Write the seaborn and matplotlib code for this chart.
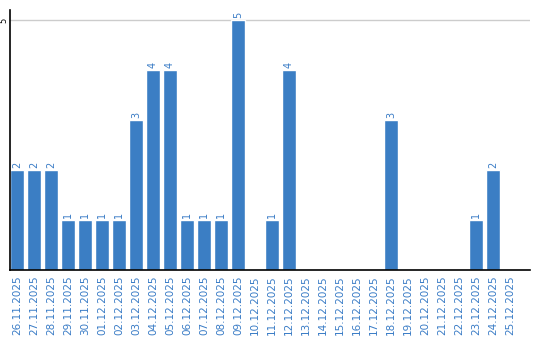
import matplotlib
matplotlib.use("Agg")
import matplotlib.pyplot as plt
import seaborn as sns
import pandas as pd

dates = ["26.11.2025", "27.11.2025", "28.11.2025", "29.11.2025", "30.11.2025",
         "01.12.2025", "02.12.2025", "03.12.2025", "04.12.2025", "05.12.2025",
         "06.12.2025", "07.12.2025", "08.12.2025", "09.12.2025", "10.12.2025",
         "11.12.2025", "12.12.2025", "13.12.2025", "14.12.2025", "15.12.2025",
         "16.12.2025", "17.12.2025", "18.12.2025", "19.12.2025", "20.12.2025",
         "21.12.2025", "22.12.2025", "23.12.2025", "24.12.2025", "25.12.2025"]
counts = [2, 2, 2, 1, 1, 1, 1, 3, 4, 4, 1, 1, 1, 5, 0, 1, 4, 0, 0, 0,
          0, 0, 3, 0, 0, 0, 0, 1, 2, 0]

BAR = "#3b7ec4"
TXT = "#3a7cc6"

sns.set_theme(style="white")
plt.rcParams['font.family'] = ['DejaVu Sans']

df = pd.DataFrame({"date": dates, "count": counts})

fig = plt.figure(figsize=(5.4, 3.4), dpi=100)
ax = fig.add_axes([10/540, 70/340, 520/540, 260/340])
sns.barplot(data=df, x="date", y="count", color=BAR, width=14/17,
            saturation=1, ax=ax, order=dates)
ax.set_xlim(-7/17, 30.18)
ax.set_ylim(0, 5.2)
ax.set_xlabel("")
ax.set_ylabel("")
ax.set_yticks([5])
ax.set_yticklabels(["5"], rotation=90, va="center", fontsize=6, color="black")
ax.tick_params(axis="y", length=0, pad=1)
ax.tick_params(axis="x", length=0, pad=4)
ax.set_xticks(range(len(dates)))
ax.set_xticklabels(dates, rotation=90, fontsize=7.5, color=TXT)
ax.axhline(5, color="#cccccc", lw=1, zorder=0)
for s in ["top", "right"]:
    ax.spines[s].set_visible(False)
for s in ["left", "bottom"]:
    ax.spines[s].set_color("black")
    ax.spines[s].set_linewidth(1.2)

for i, v in enumerate(counts):
    if v > 0:
        ax.text(i, v + 0.04, str(v), rotation=90, ha="center", va="bottom",
                fontsize=7, color=TXT)

fig.savefig("out.png", dpi=100)
